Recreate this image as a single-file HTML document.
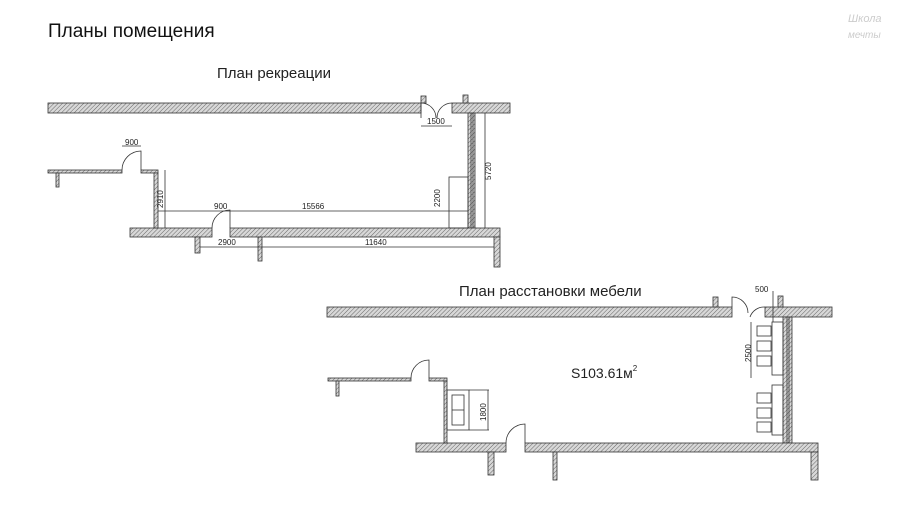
<!DOCTYPE html>
<html><head><meta charset="utf-8"><style>
body{margin:0;background:#fff;width:900px;height:506px;overflow:hidden}
svg{display:block}
text{font-family:"Liberation Sans",sans-serif}
</style></head><body>
<svg width="900" height="506" viewBox="0 0 900 506">
<defs>
<pattern id="h" width="3" height="3" patternUnits="userSpaceOnUse" patternTransform="rotate(45)">
<rect width="3" height="3" fill="#d8d8d8"/><line x1="0" y1="0" x2="0" y2="3" stroke="#666" stroke-width="1"/>
</pattern>
</defs>
<text x="48" y="37" font-size="19" fill="#111">Планы помещения</text>
<text x="848" y="22" font-size="11" fill="#ccc" font-style="italic">Школа</text>
<text x="848" y="38" font-size="10" fill="#ccc" font-style="italic">мечты</text>
<text x="217" y="78" font-size="15" fill="#222">План рекреации</text>
<text x="459" y="296" font-size="15" fill="#222">План расстановки мебели</text>

<g stroke="#333" stroke-width="0.8" fill="url(#h)">
<rect x="48" y="103" width="373" height="10"/>
<rect x="452" y="103" width="58" height="10"/>
<rect x="421" y="96" width="5" height="7"/>
<rect x="463" y="95" width="5" height="8"/>
<rect x="468" y="113" width="7" height="115"/>
<rect x="130" y="228" width="82" height="9"/>
<rect x="230" y="228" width="270" height="9"/>
<rect x="494" y="237" width="6" height="30"/>
<rect x="195" y="237" width="5" height="16"/>
<rect x="258" y="237" width="4" height="24"/>
<rect x="48" y="170" width="74" height="3"/>
<rect x="141" y="170" width="17" height="3"/>
<rect x="154" y="173" width="4" height="55"/>
<rect x="56" y="173" width="3" height="14"/>
<rect x="327" y="307" width="405" height="10"/>
<rect x="765" y="307" width="67" height="10"/>
<rect x="713" y="297" width="5" height="10"/>
<rect x="778" y="296" width="5" height="11"/>
<rect x="783" y="317" width="9" height="126"/>
<rect x="416" y="443" width="90" height="9"/>
<rect x="525" y="443" width="293" height="9"/>
<rect x="811" y="452" width="7" height="28"/>
<rect x="488" y="452" width="6" height="23"/>
<rect x="553" y="452" width="4" height="28"/>
<rect x="328" y="378" width="83" height="3"/>
<rect x="429" y="378" width="18" height="3"/>
<rect x="444" y="381" width="3" height="62"/>
<rect x="336" y="381" width="3" height="15"/>
</g>
<g stroke="#333" stroke-width="0.8" fill="none">
<path d="M421 103 V118 M421 103 A15 15 0 0 1 436 118 M452 103 A15 15 0 0 0 437 118"/>
<path d="M122 170 A19 19 0 0 1 141 151 V170"/>
<path d="M212 228 A18 18 0 0 1 230 210 V228"/>
<line x1="471" y1="113" x2="471" y2="228"/><line x1="473" y1="113" x2="473" y2="228"/>
<rect x="449" y="177" width="19" height="51"/>
<line x1="158" y1="211" x2="468" y2="211"/>
<line x1="200" y1="247" x2="494" y2="247"/>
<line x1="165" y1="170" x2="165" y2="228"/>
<line x1="485" y1="113" x2="485" y2="228"/>
<line x1="421" y1="126" x2="452" y2="126"/>
<line x1="122" y1="146" x2="141" y2="146"/>
<path d="M732 307 V297 A16 16 0 0 1 748 313 M765 307 A15 15 0 0 0 750 317"/>
<path d="M411 378 A18 18 0 0 1 429 360 V378"/>
<path d="M506 443 A19 19 0 0 1 525 424 V443"/>
<line x1="787" y1="317" x2="787" y2="443"/><line x1="789" y1="317" x2="789" y2="443"/>
<rect x="772" y="322" width="11" height="53"/>
<rect x="772" y="385" width="11" height="50"/>
<rect x="447" y="390" width="22" height="40"/>
<rect x="452" y="395" width="12" height="30"/>
<line x1="452" y1="410" x2="464" y2="410"/>
<line x1="469" y1="390" x2="489" y2="390"/><line x1="469" y1="430" x2="489" y2="430"/>
<line x1="488" y1="390" x2="488" y2="430"/>
<line x1="751" y1="322" x2="751" y2="378"/>
<line x1="773" y1="291" x2="773" y2="322"/>
<g>
<rect x="757" y="326" width="14" height="10"/><rect x="757" y="341" width="14" height="10"/><rect x="757" y="356" width="14" height="10"/>
<rect x="757" y="393" width="14" height="10"/><rect x="757" y="408" width="14" height="10"/><rect x="757" y="422" width="14" height="10"/>
</g>
</g>
<g font-size="8" fill="#222">
<text x="125" y="145">900</text>
<text x="214" y="209">900</text>
<text x="302" y="209">15566</text>
<text x="218" y="245">2900</text>
<text x="365" y="245">11640</text>
<text x="427" y="124">1500</text>
<text x="755" y="292">500</text>
<text transform="translate(163,208) rotate(-90)">2910</text>
<text transform="translate(491,180) rotate(-90)">5720</text>
<text transform="translate(440,207) rotate(-90)">2200</text>
<text transform="translate(751,362) rotate(-90)">2500</text>
<text transform="translate(486,421) rotate(-90)">1800</text>
</g>
<text x="571" y="378" font-size="14" fill="#222">S103.61м<tspan font-size="8" dy="-7">2</tspan></text>
</svg>
</body></html>
